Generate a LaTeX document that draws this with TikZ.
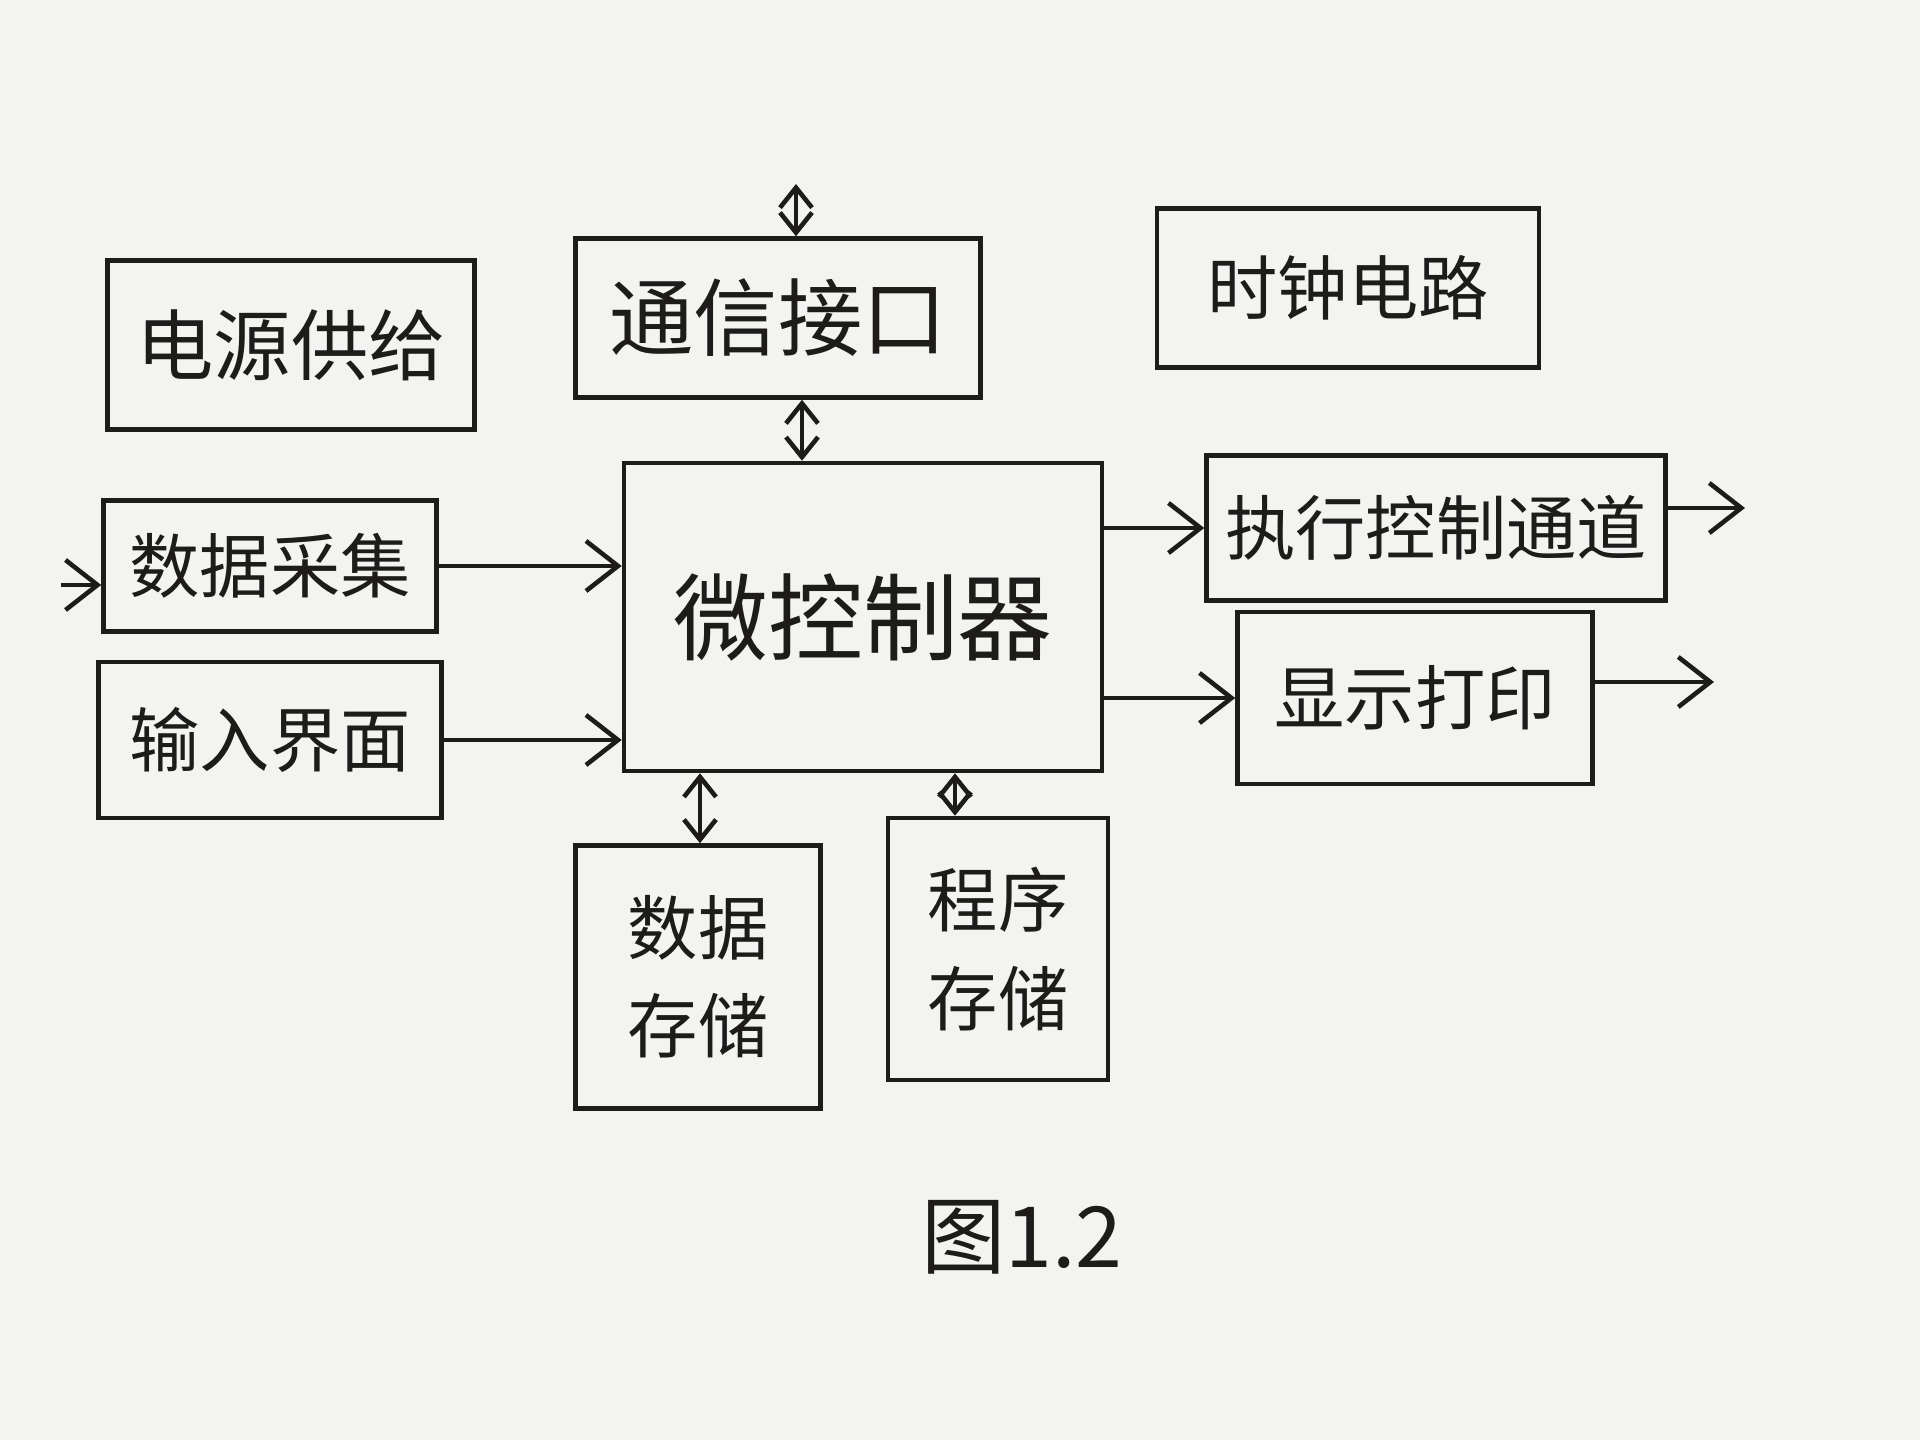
\documentclass[tikz,border=0pt]{standalone}
\usepackage{xcolor}
\usepackage{tikz}
\usetikzlibrary{positioning,arrows.meta}
\usepackage{fontspec}
\newfontfamily\cjk{Noto Sans CJK SC}
\definecolor{paper}{HTML}{F3F3F1}
\definecolor{ink}{HTML}{1E1B1B}

\begin{document}
\begin{tikzpicture}[x=0.1mm,y=-0.1mm,
    block/.style={draw=ink,line width=1.3pt,inner sep=0pt,
      font=\cjk\fontsize{20}{28}\selectfont,text=ink,align=center},
    link/.style={draw=ink,line width=1.3pt,-{Straight Barb[length=3.2mm,width=5mm,line width=1.3pt]}},
    bus/.style={draw=ink,line width=1.3pt,{Straight Barb[length=2mm,width=3.2mm]}-{Straight Barb[length=2mm,width=3.2mm]}}]
    \fill[paper] (0,0) rectangle (1920,1440);
    \useasboundingbox (0,0) rectangle (1920,1440);
    % blocks
    \node[block,minimum width=3.67cm,minimum height=1.69cm,font=\cjk\fontsize{22}{28}\selectfont] (pwr) at (291,345) {电源供给};
    \node[block,minimum width=4.05cm,minimum height=1.59cm,font=\cjk\fontsize{24}{28}\selectfont] (comm) at (778,318) {通信接口};
    \node[block,minimum width=3.82cm,minimum height=1.59cm] (clk) at (1348,288) {时钟电路};
    \node[block,minimum width=3.33cm,minimum height=1.31cm] (acq) at (270,566) {数据采集};
    \node[block,minimum width=3.43cm,minimum height=1.56cm] (inp) at (270,740) {输入界面};
    \node[block,minimum width=4.78cm,minimum height=3.08cm,font=\cjk\fontsize{27}{28}\selectfont] (mcu) at (863,617) {微控制器};
    \node[block,minimum width=4.59cm,minimum height=1.45cm] (exec) at (1436,528) {执行控制通道};
    \node[block,minimum width=3.55cm,minimum height=1.72cm] (disp) at (1415,698) {显示打印};
    \node[block,minimum width=2.45cm,minimum height=2.63cm] (dmem) at (698,977) {数据\\存储};
    \node[block,minimum width=2.20cm,minimum height=2.62cm] (pmem) at (998,949) {程序\\存储};
    \node[font=\cjk\fontsize{24}{28}\selectfont,text=ink] (cap) at (1022,1237) {图1.2};
    % free ends
    \coordinate (commtop) at (796,184);
    \coordinate (datain) at (61,585);
    \coordinate (execout) at (1745,508);
    \coordinate (dispout) at (1714,682);
    % connectors
    \draw[link] (datain) -- (acq.west |- datain);
    \draw[link] (acq.east) -- (mcu.west |- acq.east);
    \draw[link] (inp.east) -- (mcu.west |- inp.east);
    \draw[link] (mcu.east |- exec.west) -- (exec.west);
    \draw[link] (mcu.east |- disp.west) -- (disp.west);
    \draw[link] (exec.east |- execout) -- (execout);
    \draw[link] (disp.east |- dispout) -- (dispout);
    \draw[bus] (commtop) -- (comm.north -| commtop);
    \draw[bus] (comm.south -| 802,0) -- (mcu.north -| 802,0);
    \draw[bus] (mcu.south -| 700,0) -- (dmem.north -| 700,0);
    \draw[bus] (mcu.south -| 955,0) -- (pmem.north -| 955,0);
\end{tikzpicture}
\end{document}
